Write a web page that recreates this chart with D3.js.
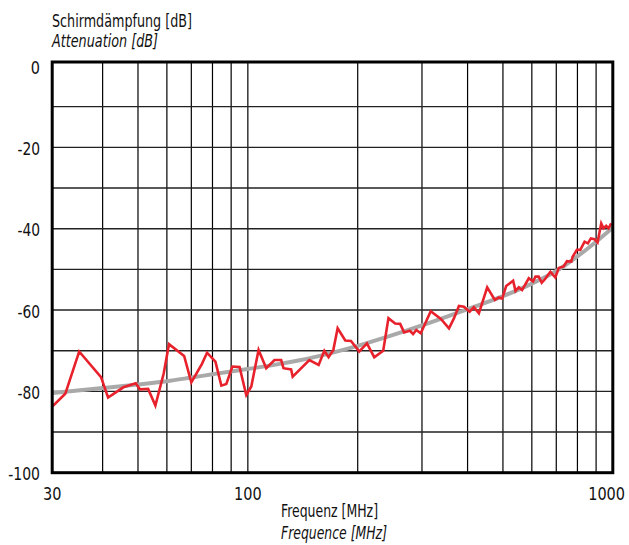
<!DOCTYPE html>
<html>
<head>
<meta charset="utf-8">
<script src="https://cdn.jsdelivr.net/npm/d3@7"></script>
<style>
  html, body { margin: 0; padding: 0; background: #fff; }
  svg text { font-family: "Liberation Sans Narrow", "Arial Narrow", "DejaVu Sans Condensed", sans-serif; fill: #111; }
</style>
</head>
<body>
<svg id="chart" width="629" height="545"></svg>
<script>
// ---- data ----
const xTickLabels = [30, 100, 1000];
const yTicks = [0, -20, -40, -60, -80, -100];
const yGrid = [-10, -20, -30, -40, -50, -60, -70, -80, -90];
const xGrid = [40, 50, 60, 70, 80, 90, 100, 200, 300, 400, 500, 600, 700, 800, 900];

const yTitleDe = "Schirmdämpfung [dB]";
const yTitleEn = "Attenuation [dB]";
const xTitleDe = "Frequenz [MHz]";
const xTitleEn = "Frequence [MHz]";

// measured shielding attenuation (red)
const redFreq = [29.2, 31.6, 34.5, 39.6, 41.4, 45.6, 49.3, 50.6, 53.3, 55.8, 58.8, 60.8, 66.9, 70.0, 74.8, 77.3, 81.5, 84.6, 87.3, 90.7, 94.9, 99.0, 102.2, 107, 112.3, 118.3, 123.4, 125.2, 131.4, 132.7, 147.4, 156.3, 162, 166.4, 171.5, 176.2, 184.9, 191.7, 202, 212, 222, 234.9, 242.8, 253.3, 261.4, 268, 277.8, 283.6, 289.5, 297.7, 317, 338, 355.8, 367.2, 378.8, 390.9, 405.2, 416.3, 429.6, 452.7, 475.2, 487.3, 497.5, 510.3, 533.2, 541.3, 552.6, 564.2, 588.5, 604.5, 613.8, 626.6, 638.6, 650.8, 674.5, 696, 710.6, 733.4, 748.7, 769.7, 776.1, 797.2, 814.5, 836.9, 854.5, 870.8, 891.3, 908.2, 929.6, 943.2, 959.4, 973.4, 990];
const redDb = [-83.6, -80.6, -70.2, -76.5, -81.5, -79.0, -78.0, -79.5, -79.4, -83.5, -75.6, -68.4, -71.3, -77.8, -73.3, -70.5, -72.7, -78.6, -78.2, -73.9, -74.0, -80.9, -78.8, -69.8, -74.3, -72.3, -72.3, -74.3, -74.6, -76.4, -72.3, -73.5, -70.0, -71.6, -69.8, -64.5, -67.5, -67.6, -70.2, -68.2, -71.6, -70.0, -62.0, -63.3, -63.4, -65.5, -65.1, -65.9, -64.9, -65.7, -60.3, -62.2, -64.5, -62.0, -59.0, -59.2, -60.4, -59.3, -60.8, -54.4, -57.5, -56.9, -57.2, -54.1, -52.8, -55.3, -54.4, -55.1, -52.2, -53.0, -51.8, -51.8, -53.3, -52.5, -50.6, -52.0, -49.7, -49.3, -48.0, -48.1, -46.9, -45.2, -45.2, -43.2, -43.6, -42.4, -42.6, -43.4, -38.7, -39.9, -39.3, -39.9, -38.7];

// smoothed trend (gray)
const fitFreq = [29.2, 40, 50, 60, 70, 80, 90, 100, 150, 200, 300, 400, 500, 600, 700, 800, 900, 1000];
const fitDb = [-80.4, -79.2, -78.3, -77.5, -76.6, -75.8, -75.1, -74.5, -71.7, -68.8, -63.8, -59.8, -56.6, -53.5, -50.4, -46.8, -43.2, -39.7];

// ---- layout ----
const W = 629;
const svg = d3.select("#chart");
const left = 52.2, right = 612.8, top0 = 66, bottom = 472.7;
const x = d3.scaleLog().domain([29.1, 1000]).range([left, right]);
const y = d3.scaleLinear().domain([-100, 0]).range([bottom, top0]);

// approximate narrow label width: digits ~9.2px, minus ~4px
const labelWidth = s => String(s).split("").reduce((a, c) => a + (c === "-" ? 4.2 : 9.2), 0);

// grid
const grid = svg.append("g");
grid.selectAll("line.v").data(xGrid).enter().append("line")
  .attr("x1", d => x(d)).attr("x2", d => x(d))
  .attr("y1", y(0) - 4).attr("y2", y(-100))
  .attr("stroke", "#000").attr("stroke-width", 1.2);
grid.selectAll("line.h").data(yGrid).enter().append("line")
  .attr("x1", x(29.1)).attr("x2", x(1000))
  .attr("y1", d => y(d)).attr("y2", d => y(d))
  .attr("stroke", "#222").attr("stroke-width", 1.4);

// clip
svg.append("clipPath").attr("id", "clip").append("rect")
  .attr("x", left).attr("y", top0 - 4).attr("width", right - left).attr("height", bottom - top0 + 4);

const plot = svg.append("g").attr("clip-path", "url(#clip)");

// gray trend
const fitData = fitFreq.map((f, i) => [f, fitDb[i]]);
plot.append("path").datum(fitData)
  .attr("d", d3.line().x(d => x(d[0])).y(d => y(d[1])).curve(d3.curveMonotoneX))
  .attr("fill", "none").attr("stroke", "#a9a9a9").attr("stroke-width", 4).attr("stroke-linecap", "round");

// red measurement
const redData = redFreq.map((f, i) => [f, redDb[i]]);
plot.append("path").datum(redData)
  .attr("d", d3.line().x(d => x(d[0])).y(d => y(d[1])))
  .attr("fill", "none").attr("stroke", "#e8222c").attr("stroke-width", 2.6).attr("stroke-linejoin", "miter");

// frame
svg.append("rect")
  .attr("x", left).attr("y", y(0) - 4)
  .attr("width", right - left).attr("height", bottom - (y(0) - 4))
  .attr("fill", "none").attr("stroke", "#000").attr("stroke-width", 3);

// y tick labels
svg.selectAll("text.yt").data(yTicks).enter().append("text")
  .attr("x", 40).attr("y", d => y(d) + 7.5)
  .attr("text-anchor", "end").attr("font-size", 18)
  .attr("textLength", d => labelWidth(d)).attr("lengthAdjust", "spacingAndGlyphs")
  .text(d => d);

// x tick labels (centered, kept inside the page)
svg.selectAll("text.xt").data(xTickLabels).enter().append("text")
  .attr("x", d => {
    const w = labelWidth(d);
    const cx = d === xTickLabels[0] ? left : x(d);
    return Math.min(cx, W - 4 - w / 2);
  })
  .attr("y", 500)
  .attr("text-anchor", "middle").attr("font-size", 18)
  .attr("textLength", d => labelWidth(d)).attr("lengthAdjust", "spacingAndGlyphs")
  .text(d => d);

// titles
svg.append("text").attr("x", 52).attr("y", 27).attr("font-size", 18)
  .attr("textLength", 140).attr("lengthAdjust", "spacingAndGlyphs").text(yTitleDe);
svg.append("text").attr("x", 52).attr("y", 47).attr("font-size", 18).attr("font-style", "italic")
  .attr("textLength", 106).attr("lengthAdjust", "spacingAndGlyphs").text(yTitleEn);
svg.append("text").attr("x", 281).attr("y", 517).attr("font-size", 18)
  .attr("textLength", 97).attr("lengthAdjust", "spacingAndGlyphs").text(xTitleDe);
svg.append("text").attr("x", 281).attr("y", 539).attr("font-size", 18).attr("font-style", "italic")
  .attr("textLength", 106).attr("lengthAdjust", "spacingAndGlyphs").text(xTitleEn);
</script>
</body>
</html>
